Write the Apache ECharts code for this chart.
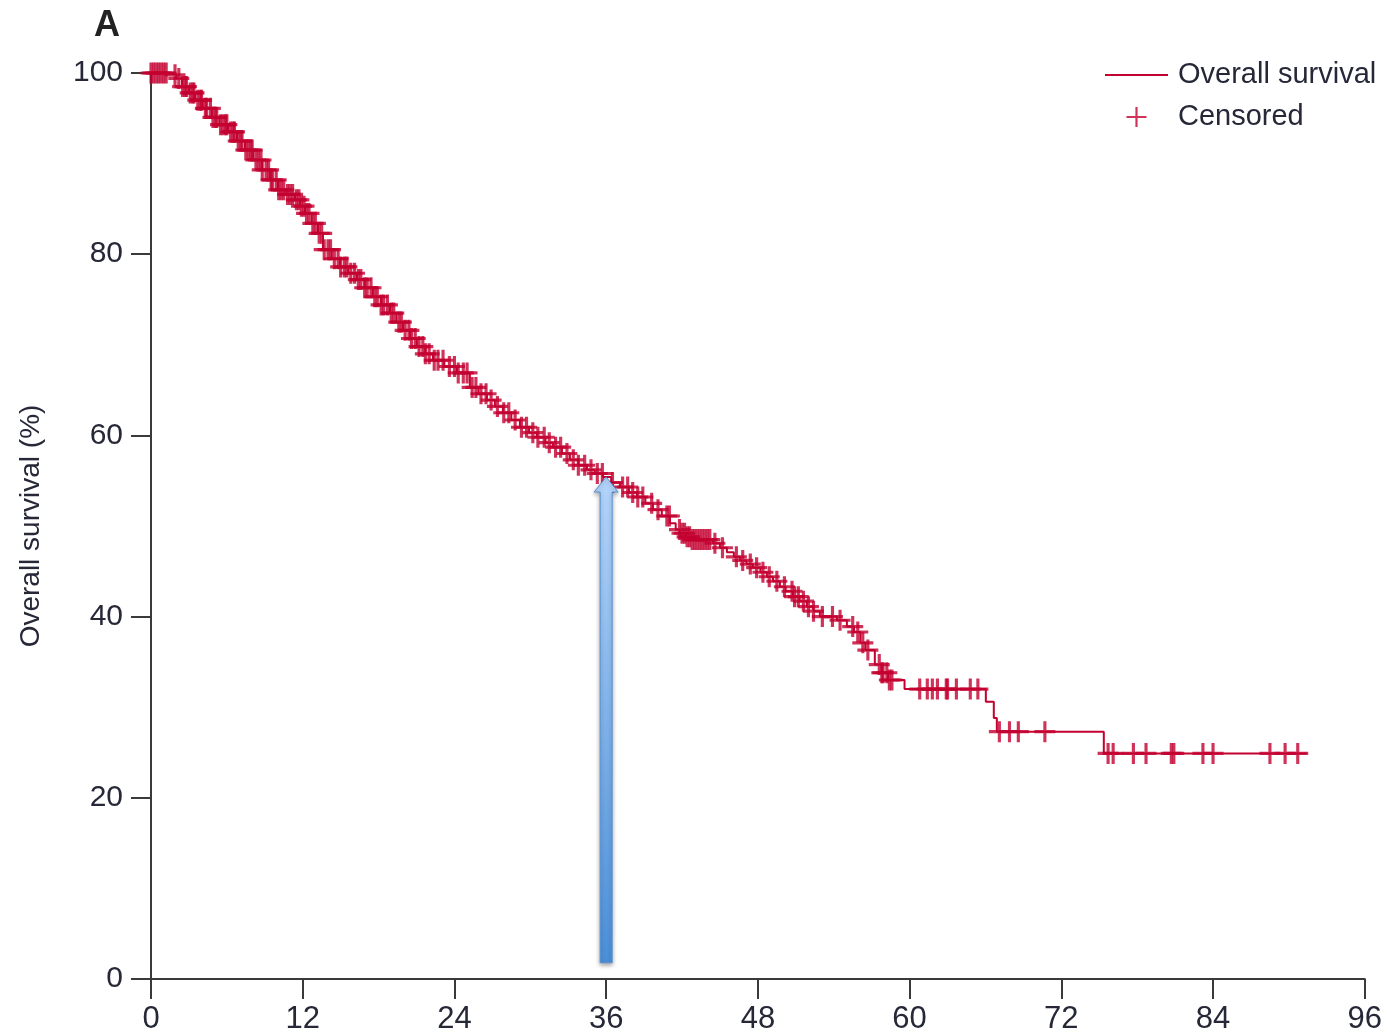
<!DOCTYPE html>
<html>
<head>
<meta charset="utf-8">
<title>Overall survival</title>
<script src="https://cdn.jsdelivr.net/npm/echarts@6/dist/echarts.min.js"></script>
<style>
  html, body { margin: 0; padding: 0; background: #ffffff; }
  #chart { width: 1385px; height: 1036px; }
</style>
</head>
<body>
<div id="chart"></div>
<script>
// Kaplan-Meier step points: [month, overall survival %]
const survivalSteps = [
  [0, 100], [1.5, 99.8], [2.0, 99.4], [2.45, 98.5], [3.0, 97.8], [3.48, 97.0],
  [4.1, 96.1], [4.82, 95.1], [5.4, 94.3], [6.09, 93.5], [6.8, 92.5], [7.43, 91.5],
  [8.1, 90.4], [8.78, 89.3], [9.4, 88.2], [10.04, 87.1], [10.7, 86.6], [11.39, 86.0],
  [11.8, 85.3], [12.18, 84.5], [12.7, 83.4], [13.21, 82.3], [13.6, 80.5], [14.3, 79.5],
  [14.95, 78.6], [15.6, 77.9], [16.29, 77.2], [16.9, 76.3], [17.55, 75.3], [18.2, 74.4],
  [18.9, 73.5], [19.4, 72.5], [19.93, 71.6], [20.5, 70.7], [21.03, 69.8], [21.7, 69.0],
  [22.3, 68.3], [23.2, 67.6], [24.2, 66.9], [25.22, 65.3], [25.9, 64.6], [26.57, 63.9],
  [27.2, 63.2], [27.83, 62.5], [28.5, 61.7], [29.18, 60.9], [29.9, 60.3], [30.52, 59.8],
  [31.2, 59.2], [31.79, 58.7], [32.5, 58.0], [33.13, 57.3], [33.8, 56.7], [34.48, 56.2],
  [35.1, 55.8], [35.74, 55.4], [36.4, 54.8], [37.09, 54.3], [37.8, 53.7], [38.43, 53.2],
  [39.1, 52.5], [39.7, 51.8], [40.4, 51.1], [41.04, 50.3], [41.5, 49.6], [41.83, 49.2],
  [42.3, 48.8], [42.8, 48.5], [44.44, 48.1], [45.0, 47.6], [45.55, 47.1], [46.1, 46.6],
  [46.58, 46.2], [47.1, 45.8], [47.6, 45.4], [48.2, 44.9], [48.71, 44.4], [49.2, 43.9],
  [49.74, 43.3], [50.2, 42.8], [50.77, 42.2], [51.3, 41.7], [51.87, 41.1], [52.4, 40.6],
  [52.9, 40.0], [54.25, 39.6], [55.04, 38.9], [55.6, 38.3], [56.1, 37.1], [56.5, 36.3],
  [57.25, 34.7], [57.8, 33.8], [58.3, 33.0], [59.6, 32.0], [66.03, 30.6], [66.66, 28.8],
  [66.9, 27.3], [75.36, 24.9], [91.41, 24.9]
];

// Months at which patients were censored
const censoredMonths = [
  0, 0.2, 0.4, 0.6, 0.8, 1.0, 1.2, 1.9, 2.2,
  2.5, 2.7, 2.8, 3.1, 3.3, 3.4, 3.7, 3.9, 4.0, 4.3, 4.4, 4.7, 4.9, 5.1, 5.2, 5.5,
  5.7, 5.9, 6.0, 6.3, 6.5, 6.6, 6.9, 7.1, 7.2, 7.5, 7.7, 7.9, 8.0, 8.3, 8.5, 8.7,
  8.8, 9.1, 9.3, 9.5, 9.6, 9.9, 10.1, 10.3, 10.5, 10.8, 11.0, 11.2, 11.5, 11.7,
  11.9, 12.1, 12.3, 12.5, 12.8, 13.0, 13.3, 13.5, 13.7, 14.0, 14.2, 14.5, 14.8,
  15.0, 15.3, 15.5, 15.8, 16.1, 16.4, 16.6, 16.9, 17.1, 17.4, 17.7, 17.9, 18.2,
  18.4, 18.7, 19.0, 19.2, 19.6, 19.8, 20.1, 20.4, 20.6, 20.9, 21.2, 21.5, 21.7,
  22.0, 22.4, 22.7, 23.1, 23.6, 24.0, 24.3, 24.7, 25.0, 25.4, 25.7, 26.1, 26.5,
  26.9, 27.4, 27.9, 28.3, 28.8, 29.3, 29.7, 30.2, 30.6, 31.1, 31.5, 32.0, 32.4,
  32.9, 33.4, 33.8, 34.3, 34.8, 35.3, 35.7, 36.5, 37.3, 37.7, 38.1, 38.5, 38.9,
  39.6, 40.1, 40.8, 41.0,
  41.8, 42.0, 42.2, 42.4, 42.6, 42.8, 43.0, 43.2, 43.4, 43.6, 43.8, 44.0, 44.2,
  44.6, 45.2, 46.3, 46.8, 47.4, 47.9, 48.4, 48.9, 49.5, 50.1, 50.7, 50.9, 51.2,
  51.6, 52.0, 52.4, 53.1, 53.9, 54.5, 55.5, 55.9, 56.3, 56.7, 57.6, 57.8, 57.9,
  58.2, 58.4, 58.6,
  60.8, 61.4, 61.8, 62.2, 62.9, 63.0, 63.7, 64.8, 65.4,
  67.1, 67.9, 68.6, 70.7,
  75.7, 76.1, 77.7, 78.7, 80.7, 80.9, 83.2, 84.0, 88.5, 89.7, 90.7
];

// Arrow marking the 36-month survival: [month, from %, to %]
const arrowMarks = [[36, 1.8, 55.4]];

const monthTicks = [0, 12, 24, 36, 48, 60, 72, 84, 96];
const survivalTicks = [0, 20, 40, 60, 80, 100];

const RED = '#c3002f';
const TEXT = '#262838';
const SANS = "'Liberation Sans', Arial, sans-serif";
const PLUS = 'path://M8.5,0H11.5V8.5H20V11.5H11.5V20H8.5V11.5H0V8.5H8.5Z';
const LEGEND_PLUS = 'path://M8.9,0H11.1V8.9H20V11.1H11.1V20H8.9V11.1H0V8.9H8.9Z';
const DASH = 'path://M0,9H63V11H0Z';

// Survival value of the step curve at a given month
function survivalAt(t) {
  let s = survivalSteps[0][1];
  for (const [m, v] of survivalSteps) {
    if (m <= t) s = v; else break;
  }
  return s;
}

const censoredPoints = censoredMonths.map(t => [t, survivalAt(t)]);

const chart = echarts.init(document.getElementById('chart'), null, { renderer: 'canvas' });

chart.setOption({
  animation: false,
  backgroundColor: '#ffffff',
  title: {
    text: 'A',
    left: 89,
    top: 3,
    textStyle: { fontFamily: SANS, fontWeight: 'bold', fontSize: 36, color: '#222' }
  },
  legend: {
    orient: 'vertical',
    left: 1105,
    top: 60,
    padding: 0,
    itemWidth: 63,
    itemHeight: 20,
    itemGap: 12,
    symbolKeepAspect: true,
    data: [
      { name: 'Overall survival', icon: DASH },
      { name: 'Censored', icon: LEGEND_PLUS }
    ],
    textStyle: { fontFamily: SANS, fontSize: 29, lineHeight: 30, color: TEXT, padding: [0, 0, 0, 5] }
  },
  grid: { left: 151, right: 20, top: 73, bottom: 57, containLabel: false },
  xAxis: {
    type: 'value',
    min: monthTicks[0],
    max: monthTicks[monthTicks.length - 1],
    interval: 12,
    axisLine: { show: true, onZero: false, lineStyle: { color: '#3a3a3a', width: 2 } },
    axisTick: { show: true, length: 20, lineStyle: { color: '#3a3a3a', width: 2 } },
    axisLabel: { margin: 25, fontFamily: SANS, fontSize: 31, color: TEXT,
      formatter: v => monthTicks.includes(v) ? String(v) : '' },
    splitLine: { show: false }
  },
  yAxis: {
    type: 'value',
    min: survivalTicks[0],
    max: survivalTicks[survivalTicks.length - 1],
    interval: 20,
    name: 'Overall survival (%)',
    nameLocation: 'middle',
    nameRotate: 90,
    nameGap: 106,
    nameTextStyle: { fontFamily: SANS, fontSize: 28, color: TEXT },
    axisLine: { show: true, lineStyle: { color: '#3a3a3a', width: 2 } },
    axisTick: { show: true, length: 20, lineStyle: { color: '#3a3a3a', width: 2 } },
    axisLabel: { margin: 28, fontFamily: SANS, fontSize: 30, color: TEXT,
      formatter: v => survivalTicks.includes(v) ? String(v) : '' },
    splitLine: { show: false }
  },
  series: [
    {
      name: 'Overall survival',
      type: 'line',
      step: 'end',
      data: survivalSteps,
      showSymbol: false,
      symbol: 'none',
      color: RED,
      lineStyle: { color: RED, width: 2 },
      z: 3
    },
    {
      name: 'Censored',
      type: 'scatter',
      data: censoredPoints,
      symbol: PLUS,
      symbolSize: 21,
      color: RED,
      itemStyle: { color: RED },
      clip: false,
      z: 4
    },
    {
      name: 'arrow',
      type: 'custom',
      data: arrowMarks,
      clip: false,
      z: 6,
      renderItem: function (params, api) {
        const tip = api.coord([api.value(0), api.value(2)]);
        const base = api.coord([api.value(0), api.value(1)]);
        const x = tip[0];
        const headH = 15, headW = 12, shaftW = 6;
        const points = [
          [x, tip[1]],
          [x + headW, tip[1] + headH],
          [x + shaftW, tip[1] + headH],
          [x + shaftW, base[1]],
          [x - shaftW, base[1]],
          [x - shaftW, tip[1] + headH],
          [x - headW, tip[1] + headH]
        ];
        return {
          type: 'polygon',
          shape: { points: points },
          style: {
            fill: new echarts.graphic.LinearGradient(0, 0, 0, 1, [
              { offset: 0, color: '#b4d5fb' },
              { offset: 1, color: '#4b8fd8' }
            ]),
            stroke: '#5c90d2',
            lineWidth: 1,
            shadowBlur: 4,
            shadowOffsetY: 2,
            shadowColor: 'rgba(0,0,0,0.35)'
          }
        };
      }
    }
  ]
});
</script>
</body>
</html>
